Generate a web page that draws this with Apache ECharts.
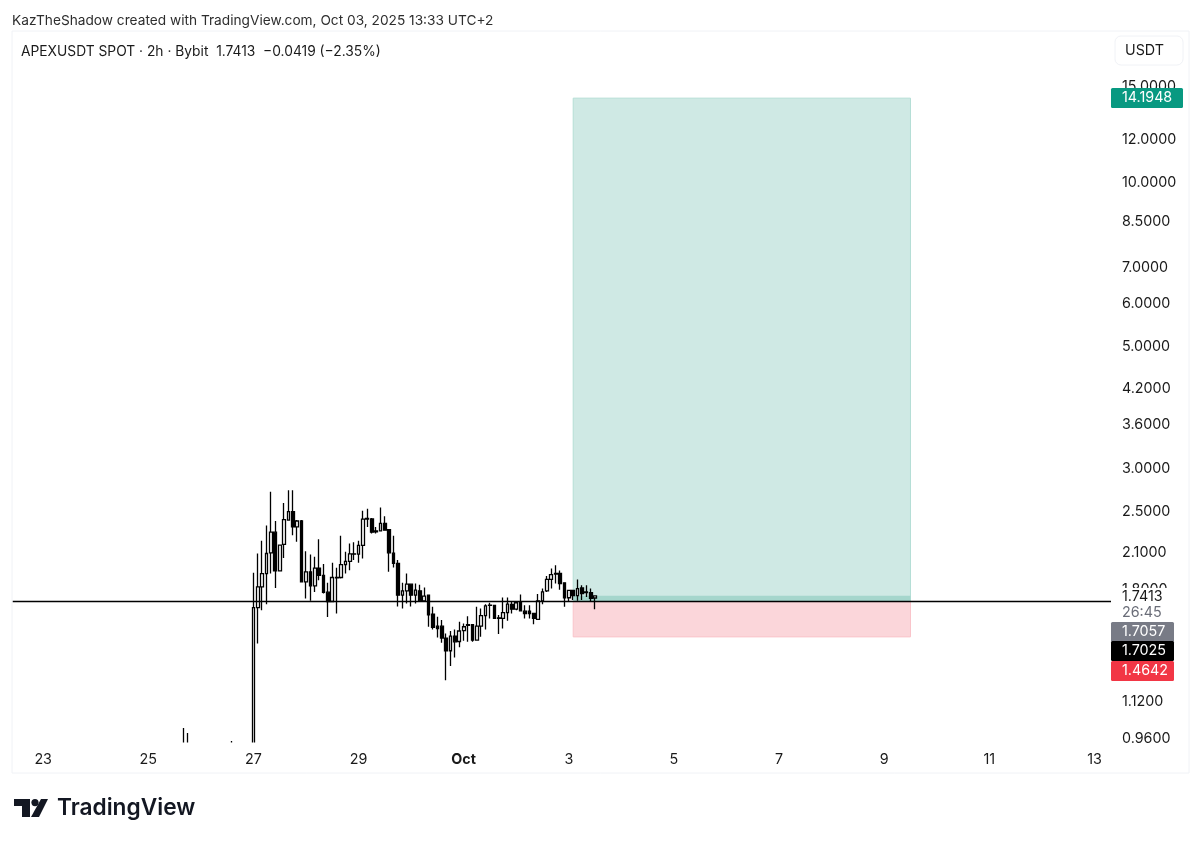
<!DOCTYPE html>
<html>
<head>
<meta charset="utf-8">
<title>APEXUSDT</title>
<script src="https://cdn.jsdelivr.net/npm/echarts@6/dist/echarts.min.js"></script>
<style>
  html, body { margin: 0; padding: 0; background: #fff; }
  #chart { width: 1200px; height: 843px; }
</style>
</head>
<body>
<div id="chart"></div>
<script>
const FONT = 'Inter';

// 2h candles, first one is Sep 26 00:00 (most of the early ones sit below the pane)
const opens = [0.90, 0.90, null, null, null, null, null, null, null, null, null, 0.90, null, null, null, null,
  0.90, 1.657, 1.808, 1.912, 2.087, 2.277, 1.934, 2.162, 2.396, 2.484, 2.328, 2.387, 1.847, 1.926, 1.816, 1.957,
  1.897, 1.768, 1.700, 1.881, 1.881, 1.985, 2.013, 2.078, 2.075, 2.153, 2.405, 2.408, 2.280, 2.290, 2.364, 2.302,
  2.084, 1.996, 1.746, 1.778, 1.829, 1.746, 1.778, 1.705, 1.746, 1.612, 1.532, 1.532, 1.457, 1.381, 1.469, 1.436,
  1.503, 1.541, 1.541, 1.444, 1.532, 1.601, 1.672, 1.672, 1.587, 1.583, 1.622, 1.679, 1.646, 1.693, 1.632, 1.632,
  1.616, 1.576, 1.705, 1.777, 1.866, 1.909, 1.914, 1.839, 1.727, 1.782, 1.743, 1.800, 1.770, 1.765, 1.725];
const closes = [0.91, 0.91, null, null, null, null, null, null, null, null, null, 0.91, null, null, null, null,
  1.657, 1.808, 1.912, 2.081, 2.277, 1.934, 2.156, 2.401, 2.484, 2.328, 2.387, 1.847, 1.926, 1.816, 1.957, 1.897,
  1.766, 1.700, 1.881, 1.878, 1.985, 2.013, 2.078, 2.075, 2.153, 2.405, 2.412, 2.277, 2.290, 2.364, 2.296, 2.087,
  1.996, 1.746, 1.778, 1.829, 1.746, 1.783, 1.705, 1.739, 1.606, 1.524, 1.517, 1.457, 1.381, 1.469, 1.434, 1.501,
  1.528, 1.537, 1.444, 1.532, 1.601, 1.669, 1.674, 1.583, 1.583, 1.622, 1.681, 1.646, 1.691, 1.634, 1.616, 1.616,
  1.583, 1.705, 1.770, 1.866, 1.904, 1.914, 1.834, 1.727, 1.782, 1.743, 1.795, 1.757, 1.765, 1.722, 1.7413];
const lows = [0.88, 0.88, null, null, null, null, null, null, null, null, null, 0.88, null, null, null, null,
  0.85, 1.424, 1.639, 1.680, 1.912, 1.800, 1.934, 2.041, 2.396, 2.248, 2.186, 1.847, 1.722, 1.705, 1.770, 1.860,
  1.758, 1.593, 1.698, 1.616, 1.873, 1.912, 1.940, 2.024, 2.002, 2.038, 2.328, 2.264, 2.264, 2.290, 2.296, 1.926,
  1.962, 1.664, 1.651, 1.685, 1.664, 1.685, 1.700, 1.700, 1.528, 1.511, 1.461, 1.429, 1.220, 1.295, 1.343, 1.401,
  1.440, 1.434, 1.434, 1.440, 1.465, 1.511, 1.583, 1.583, 1.482, 1.517, 1.568, 1.616, 1.639, 1.630, 1.583, 1.583,
  1.545, 1.572, 1.681, 1.770, 1.795, 1.834, 1.787, 1.662, 1.698, 1.710, 1.705, 1.710, 1.733, 1.698, 1.646];
const highs = [0.997, 0.976, null, null, null, null, null, null, null, null, null, 0.944, null, null, null, null,
  1.918, 2.081, 2.195, 2.341, 2.699, 2.387, 2.156, 2.576, 2.718, 2.718, 2.396, 2.396, 2.102, 2.072, 2.052, 2.210,
  1.990, 1.839, 2.002, 1.960, 2.244, 2.096, 2.171, 2.183, 2.195, 2.491, 2.512, 2.418, 2.328, 2.526, 2.436, 2.302,
  2.244, 2.024, 1.839, 1.912, 1.829, 1.834, 1.824, 1.803, 1.751, 1.662, 1.594, 1.572, 1.486, 1.501, 1.511, 1.560,
  1.549, 1.598, 1.545, 1.662, 1.650, 1.681, 1.691, 1.674, 1.606, 1.729, 1.729, 1.698, 1.698, 1.751, 1.674, 1.674,
  1.620, 1.754, 1.795, 1.892, 1.953, 1.981, 1.937, 1.842, 1.787, 1.787, 1.866, 1.821, 1.821, 1.795, 1.745];

// Number of empty 2h slots between the left pane edge and the first candle
const LEADING_SLOTS = 39;
const SLOT_COUNT = 252;

const dayTicks = ['Sep 23', 'Sep 25', 'Sep 27', 'Sep 29', 'Oct 1', 'Oct 3', 'Oct 5', 'Oct 7', 'Oct 9', 'Oct 11', 'Oct 13'];
const priceTicks = [15, 12, 10, 8.5, 7, 6, 5, 4.2, 3.6, 3, 2.5, 2.1, 1.8, 1.12, 0.96];

const entryPrice = 1.7025;
const lastPrice = 1.7413;
const targetPrice = 14.1948;
const stopPrice = 1.4642;
const avgPrice = 1.7057;

// position tool box, in 2h slots
const boxStart = 128;
const boxEnd = 205.1;

const buildCategories = () => {
  const cats = [];
  const start = Date.UTC(2025, 8, 22, 10);
  for (let i = 0; i < SLOT_COUNT; i++) {
    const d = new Date(start + i * 2 * 3600 * 1000);
    const month = d.getUTCMonth() === 8 ? 'Sep' : 'Oct';
    cats.push(d.getUTCHours() === 0 ? `${month} ${d.getUTCDate()}` : `${month} ${d.getUTCDate()} ${d.getUTCHours()}h`);
  }
  return cats;
};

const buildCandles = () => {
  const rows = [];
  for (let i = 0; i < LEADING_SLOTS; i++) rows.push(['-', '-', '-', '-']);
  opens.forEach((o, i) => {
    rows.push(o === null ? ['-', '-', '-', '-'] : [o, closes[i], lows[i], highs[i]]);
  });
  return rows;
};

const tag = (text, y, width, bg) => ({
  type: 'group',
  z: 100,
  children: [
    { type: 'rect', silent: true, shape: { x: 1111, y: y, width: width, height: 20, r: 1.5 }, style: { fill: bg }, z: 100 },
    { type: 'text', silent: true, x: 1122, y: y + 10, style: { text: text, fill: '#fff', font: `14.3px ${FONT}`, verticalAlign: 'middle' }, z: 101 }
  ]
});

const getOptions = () => {
  return {
    animation: false,
    backgroundColor: '#fff',
    textStyle: { fontFamily: FONT },
    title: [
      {
        text: 'KazTheShadow created with TradingView.com, Oct 03, 2025 13:33 UTC+2',
        left: 12, top: 13, padding: 0,
        textStyle: { fontSize: 13.7, fontWeight: 'normal', color: '#2e2e2e', fontFamily: FONT, lineHeight: 16 }
      },
      {
        text: `APEXUSDT SPOT · 2h · Bybit  ${lastPrice}  −0.0419 (−2.35%)`,
        left: 21, top: 44, padding: 0,
        textStyle: { fontSize: 13.8, fontWeight: 'normal', color: '#1a1a1a', fontFamily: FONT, lineHeight: 16 }
      }
    ],
    grid: { left: 12.5, right: 88, top: 31, bottom: 101, containLabel: false },
    xAxis: {
      type: 'category',
      z: 10,
      data: buildCategories(),
      boundaryGap: false,
      axisLine: { show: false },
      axisTick: { show: false },
      splitLine: { show: false },
      axisLabel: {
        interval: (i, v) => dayTicks.includes(v),
        margin: 11,
        color: '#1a1a1a',
        fontSize: 14.3,
        fontFamily: FONT,
        hideOverlap: false,
        formatter: v => v === 'Oct 1' ? '{b|Oct}' : v.split(' ')[1],
        rich: { b: { fontWeight: 'bold', fontSize: 14.3, fontFamily: FONT, color: '#1a1a1a' } }
      }
    },
    yAxis: {
      type: 'log',
      z: 10,
      logBase: 10,
      position: 'right',
      min: 0.94,
      max: 18.84,
      axisLine: { show: false },
      axisTick: { show: false },
      splitLine: { show: false },
      minorTick: { show: false },
      axisLabel: {
        customValues: priceTicks,
        margin: 10,
        hideOverlap: false,
        formatter: v => `{p|${Number(v).toFixed(4)}}`,
        rich: { p: { padding: [3, 0, 0, 0], color: '#1a1a1a', fontSize: 14.3, fontFamily: FONT } }
      }
    },
    series: [
      {
        // position boxes sit under the candles
        name: 'position',
        type: 'line',
        z: 1,
        data: [],
        markArea: {
          silent: true,
          data: [
            [{ xAxis: boxStart, yAxis: targetPrice, itemStyle: { color: '#cfe9e4', borderColor: '#b5ded6', borderWidth: 1 } },
             { xAxis: boxEnd, yAxis: entryPrice }],
            [{ xAxis: boxStart, yAxis: entryPrice, itemStyle: { color: '#fbd6da', borderColor: '#f9c4ca', borderWidth: 1 } },
             { xAxis: boxEnd, yAxis: stopPrice }],
            [{ xAxis: boxStart, yAxis: lastPrice, itemStyle: { color: '#a5d6cc' } },
             { xAxis: boxEnd, yAxis: entryPrice }]
          ]
        }
      },
      {
        name: 'APEXUSDT',
        type: 'candlestick',
        z: 3,
        barWidth: 3.2,
        data: buildCandles(),
        itemStyle: {
          color: '#ffffff',
          color0: '#000000',
          borderColor: '#000000',
          borderColor0: '#000000',
          borderWidth: 1.3
        },
        markLine: {
          silent: true,
          symbol: 'none',
          label: { show: false },
          lineStyle: { color: '#000', width: 1.4, type: 'solid' },
          data: [{ yAxis: entryPrice }]
        }
      }
    ],
    graphic: [
      // candlestick clip only drops whole boxes, so hide what runs under the pane
      { type: 'rect', silent: true, z: 5, shape: { x: 13, y: 742.5, width: 1097, height: 30 }, style: { fill: '#fff' } },
      // chart frame
      { type: 'rect', silent: true, z: 6, shape: { x: 12, y: 31, width: 1177, height: 742 }, style: { fill: 'none', stroke: '#f0f2f6', lineWidth: 1 } },
      // currency button
      { type: 'rect', silent: true, z: 50, shape: { x: 1115, y: 36, width: 68, height: 29, r: 6 }, style: { fill: '#fff', stroke: '#f0f2f6', lineWidth: 1 } },
      { type: 'text', silent: true, z: 51, x: 1125, y: 51, style: { text: 'USDT', fill: '#1a1a1a', font: `14.3px ${FONT}`, verticalAlign: 'middle' } },
      // last price and countdown
      { type: 'rect', silent: true, z: 50, shape: { x: 1111, y: 588, width: 72, height: 33 }, style: { fill: '#fff' } },
      { type: 'text', silent: true, z: 51, x: 1122, y: 597, style: { text: lastPrice.toFixed(4), fill: '#1a1a1a', font: `14.3px ${FONT}`, verticalAlign: 'middle' } },
      { type: 'text', silent: true, z: 51, x: 1122, y: 613, style: { text: '26:45', fill: '#6a6d78', font: `14.3px ${FONT}`, verticalAlign: 'middle' } },
      // price tags
      tag(targetPrice.toFixed(4), 88, 72, '#089981'),
      tag(avgPrice.toFixed(4), 622, 63, '#787b86'),
      tag(entryPrice.toFixed(4), 641, 63, '#000000'),
      tag(stopPrice.toFixed(4), 661, 63, '#f23645'),
      // TradingView logo
      { type: 'polygon', silent: true, shape: { points: [[14, 799], [30, 799], [30, 817], [22, 817], [22, 806], [14, 806]] }, style: { fill: '#131722' } },
      { type: 'circle', silent: true, shape: { cx: 35, cy: 802.6, r: 3.6 }, style: { fill: '#131722' } },
      { type: 'polygon', silent: true, shape: { points: [[41, 799], [48, 799], [39, 817], [31, 817]] }, style: { fill: '#131722' } },
      { type: 'text', silent: true, x: 57, y: 808.5, style: { text: 'TradingView', fill: '#131722', font: `600 22.7px ${FONT}`, verticalAlign: 'middle' } }
    ]
  };
};

const initChart = () => {
  const chart = echarts.init(document.getElementById('chart'));
  chart.setOption(getOptions());
};

window.addEventListener('load', () => {
  initChart();
});
</script>
</body>
</html>
